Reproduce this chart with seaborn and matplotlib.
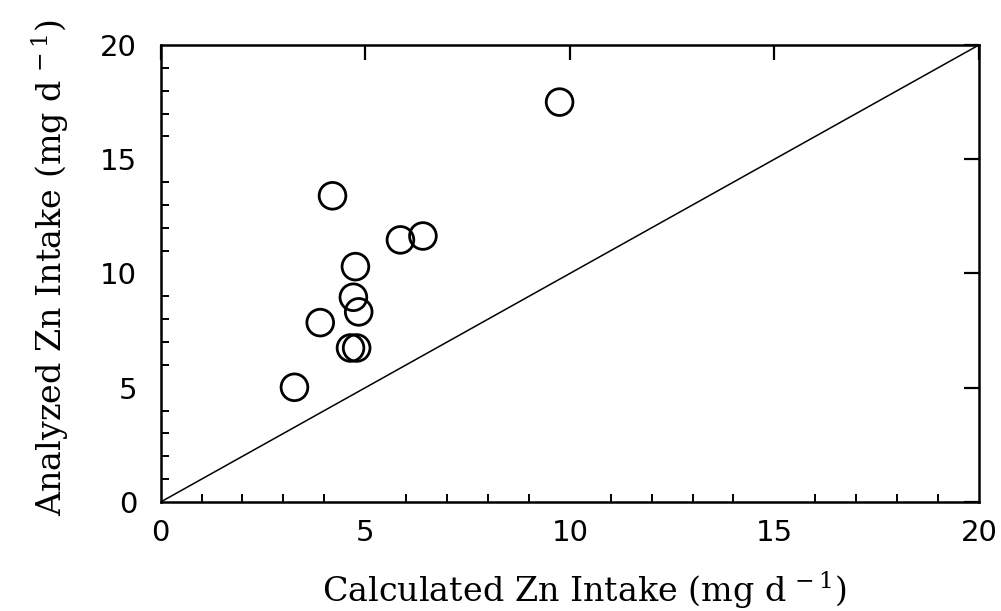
import matplotlib
matplotlib.use("Agg")
import matplotlib.pyplot as plt
from matplotlib.ticker import MultipleLocator
import pandas as pd
import seaborn as sns

# Zinc intake: calculated from food tables vs. analyzed in duplicate diets
calculated = [9.75, 4.20, 5.86, 6.41, 4.76, 4.71, 4.84, 3.90, 4.64, 4.79, 3.27]
analyzed = [17.5, 13.4, 11.47, 11.64, 10.3, 8.96, 8.32, 7.85, 6.74, 6.74, 5.02]
identity_line = [0, 20]
ticks = [0, 5, 10, 15, 20]

df = pd.DataFrame({"calc": calculated, "anal": analyzed})

sns.set_theme(style="white")
plt.rcParams["font.family"] = ["DejaVu Sans"]
plt.rcParams["mathtext.fontset"] = "custom"
plt.rcParams["mathtext.rm"] = "DejaVu Serif"
plt.rcParams["mathtext.it"] = "DejaVu Serif"

fig = plt.figure(figsize=(10.01, 6.11), dpi=100)
ax = fig.add_axes([0.1605, 0.1784, 0.978 - 0.1605, 0.9264 - 0.1784])

sns.lineplot(x=identity_line, y=identity_line, ax=ax, color="black", linewidth=1.1)
sns.scatterplot(data=df, x="calc", y="anal", ax=ax, s=370, facecolor="none",
                edgecolor="black", linewidth=2.0, zorder=3)

ax.set_xlim(0, 20)
ax.set_ylim(0, 20)
ax.set_xticks(ticks)
ax.set_yticks(ticks)
ax.set_xticklabels([str(t) for t in ticks])
ax.set_yticklabels([str(t) for t in ticks])
ax.xaxis.set_minor_locator(MultipleLocator(1))
ax.yaxis.set_minor_locator(MultipleLocator(1))

for side in ax.spines.values():
    side.set_linewidth(1.8)
    side.set_color("black")

ax.tick_params(which="major", direction="in", length=11, width=1.6, color="black",
               top=True, right=True, labelsize=21, labelcolor="black")
ax.tick_params(axis="x", which="major", pad=12)
ax.tick_params(axis="y", which="major", pad=17)
ax.tick_params(which="minor", direction="in", length=5.5, width=1.4, color="black",
               bottom=True, left=True, top=False, right=False)

ax.set_xlabel(r"Calculated Zn Intake (mg d$^{\,-1}$)", family="DejaVu Serif",
              fontsize=24, color="black", labelpad=17)
ax.set_ylabel(r"Analyzed Zn Intake (mg d$^{\,-1}$)", family="DejaVu Serif",
              fontsize=24, color="black", labelpad=21)
ax.xaxis.label.set_x(0.517)
ax.yaxis.label.set_y(0.512)

fig.savefig("out.png", dpi=100, facecolor="white")
